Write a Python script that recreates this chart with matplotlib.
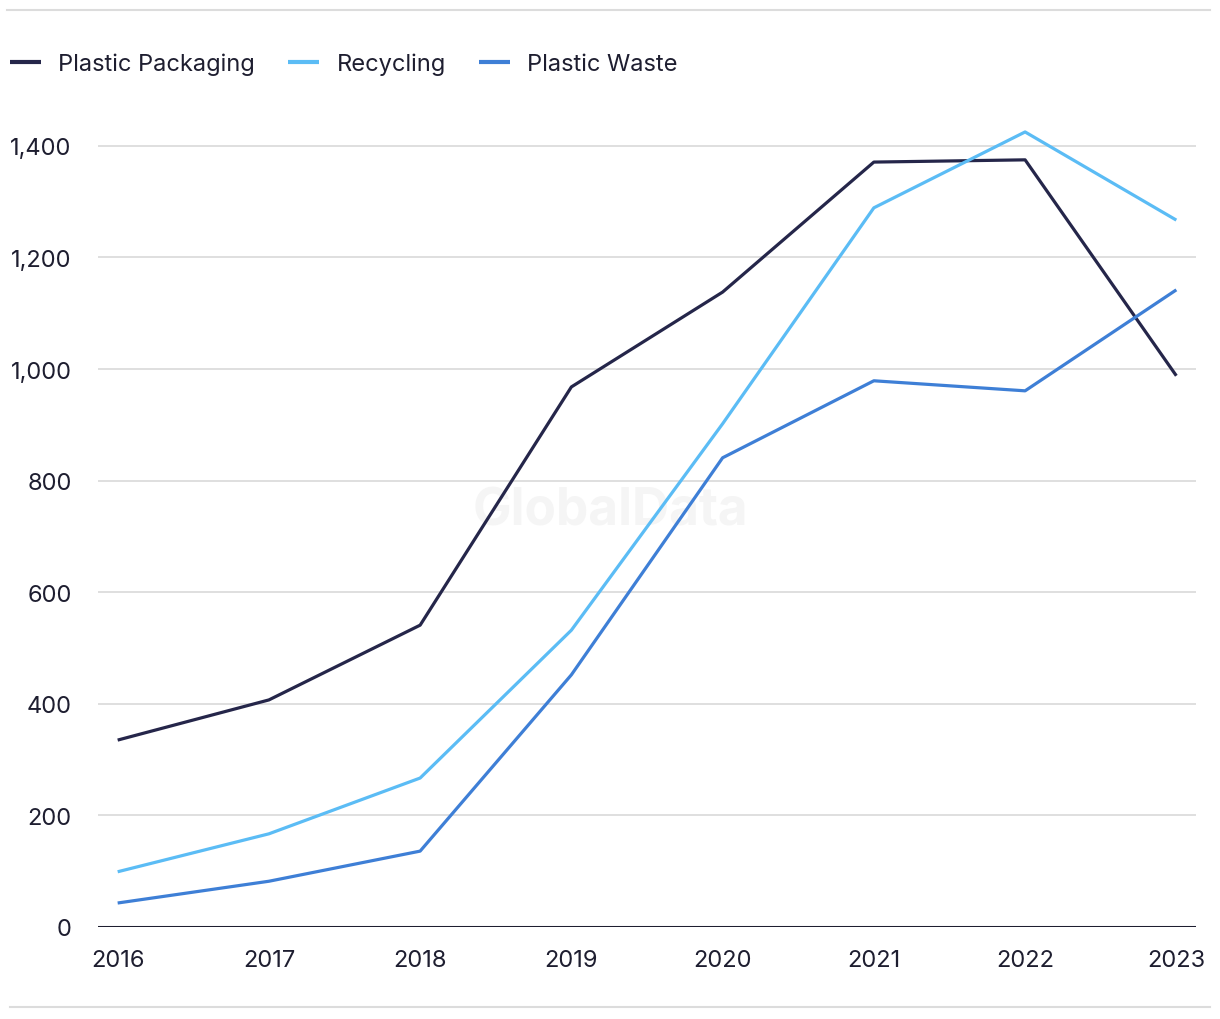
import numpy as np
import matplotlib.pyplot as plt
from matplotlib.ticker import FuncFormatter
from matplotlib.lines import Line2D

# ===================== DATA =====================
years = [2016, 2017, 2018, 2019, 2020, 2021, 2022, 2023]
packaging = [335, 407, 541, 968, 1138, 1371, 1375, 988]
recycling = [99, 167, 267, 532, 902, 1289, 1425, 1267]
waste = [43, 82, 136, 452, 841, 979, 961, 1142]

series_names = ['Plastic Packaging', 'Recycling', 'Plastic Waste']
colors = ['#25264a', '#5bbcf5', '#3e7fd6']
text_col = '#1e1e30'

plt.rcParams['font.family'] = ['Inter', 'DejaVu Sans']

fig = plt.figure(figsize=(12.2, 10.2), dpi=100)
ax = fig.add_axes([98 / 1220, 92 / 1020, (1196 - 98) / 1220, (928 - 119) / 1020])

for vals, c, name in zip([packaging, recycling, waste], colors, series_names):
    ax.plot(years, vals, color=c, linewidth=2.3, label=name, solid_capstyle='butt', zorder=3)

ax.set_xlim(2015.87, 2023.13)
ax.set_ylim(0, 1450)
ax.set_xticks(years)
ax.set_yticks(range(0, 1401, 200))
ax.yaxis.set_major_formatter(FuncFormatter(lambda v, p: f'{int(v):,}'))

ax.grid(axis='y', color='#d9d9d9', linewidth=1.2, zorder=0)
ax.axhline(0, color=text_col, linewidth=2.2, zorder=4)
for s in ax.spines.values():
    s.set_visible(False)
ax.tick_params(axis='both', length=0, labelsize=17, labelcolor=text_col)
ax.tick_params(axis='y', pad=19)
ax.tick_params(axis='x', pad=16)

# watermark (under the lines)
ax.text(610 / 1220, 1 - 512 / 1020, 'GlobalData', transform=fig.transFigure,
        fontsize=37, fontweight='bold', color='#f5f5f5', ha='center', va='center', zorder=1)

# separator lines
fig.add_artist(Line2D([7 / 1220, 1210 / 1220], [1 - 11 / 1020, 1 - 11 / 1020],
                      color='#dcdcdc', linewidth=1.5))
fig.add_artist(Line2D([10 / 1220, 1210 / 1220], [1 - 1008 / 1020, 1 - 1008 / 1020],
                      color='#dcdcdc', linewidth=1.5))

leg = fig.legend(loc='center left', bbox_to_anchor=(10 / 1220, 1 - 65 / 1020), ncol=3,
                 frameon=False, fontsize=17, handlelength=1.3, handletextpad=0.75,
                 columnspacing=1.4, borderaxespad=0, borderpad=0)
for t in leg.get_texts():
    t.set_color(text_col)
for ln in leg.get_lines():
    ln.set_linewidth(3)

fig.savefig('out.png', dpi=100, facecolor='white')
